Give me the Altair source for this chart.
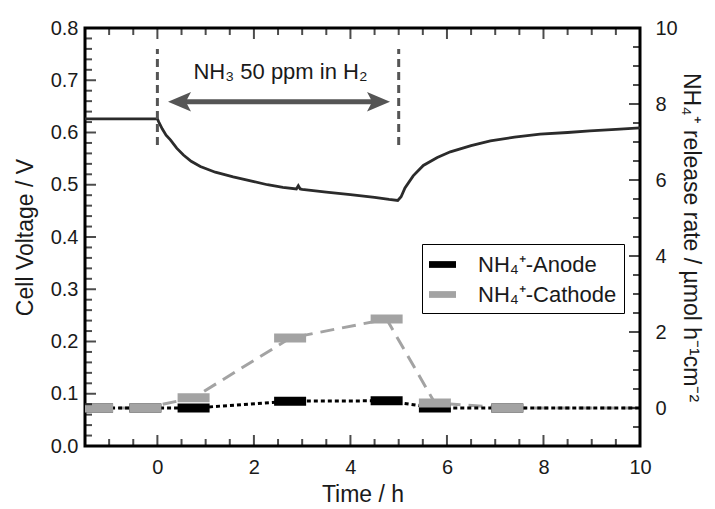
import altair as alt
import pandas as pd
import numpy as np

# ---------------- data ----------------
volt_time = [-1.5, 0.0, 0.03, 0.1, 0.18, 0.27, 0.4, 0.54, 0.7, 0.89, 1.2, 1.57, 2.0, 2.28,
             2.6, 2.88, 2.92, 2.96, 3.0, 3.5, 4.0, 4.5, 4.8, 4.98, 5.05, 5.13, 5.3, 5.51,
             5.8, 6.07, 6.5, 6.9, 7.4, 7.93, 8.5, 8.96, 9.5, 10.0]
volt_value = [0.626, 0.626, 0.62, 0.607, 0.595, 0.586, 0.57, 0.557, 0.545, 0.535, 0.524,
              0.515, 0.506, 0.5, 0.495, 0.492, 0.498, 0.492, 0.491, 0.486, 0.481, 0.476,
              0.472, 0.47, 0.477, 0.494, 0.517, 0.537, 0.552, 0.563, 0.575, 0.584, 0.591,
              0.597, 0.600, 0.603, 0.606, 0.609]

rate_time = [-1.25, -0.25, 0.75, 2.75, 4.75, 5.75, 7.25, 11.25]
anode_rate = [0.0, 0.0, 0.0, 0.18, 0.19, 0.0, 0.0, 0.0]
cathode_rate = [0.0, 0.0, 0.27, 1.84, 2.34, 0.13, 0.0, 0.0]

series_names = ["NH₄⁺-Anode", "NH₄⁺-Cathode"]
series_colors = ["#000000", "#a3a3a3"]

gas_switch_times = [0, 5]
gas_marker_low, gas_marker_high = 0.576, 0.76
arrow_start, arrow_end, arrow_level = 0.22, 4.82, 0.659
annotation_text = "NH₃ 50 ppm in H₂"
annotation_t, annotation_v = 2.55, 0.716

x_labels = [0, 2, 4, 6, 8, 10]
x_minor = [-1.0, -0.5, 0.5, 1.0, 1.5, 2.5, 3.0, 3.5, 4.5, 5.0, 5.5, 6.5, 7.0, 7.5, 8.5, 9.0, 9.5]
yl_labels = [0.0, 0.1, 0.2, 0.3, 0.4, 0.5, 0.6, 0.7, 0.8]
yl_minor = [round(float(v), 2) for v in np.arange(0.02, 0.8, 0.02) if round(v * 10, 4) % 1 != 0]
yr_labels = [0, 2, 4, 6, 8, 10]
yr_minor = [-0.5, 0.5, 1.0, 1.5, 2.5, 3.0, 3.5, 4.5, 5.0, 5.5, 6.5, 7.0, 7.5, 8.5, 9.0, 9.5]

# ---------------- style ----------------
FONT = "Liberation Sans"
TXT = "#1a1a1a"
TICK = "#000000"
W, H = 555, 418
RECT = "M-1,-0.28H1V0.28H-1Z"
LEG_RECT = "M-1,-0.25H1V0.25H-1Z"
LEFT_HEAD = "M0,0L2,-0.85L1.55,0L2,0.85Z"
RIGHT_HEAD = "M0,0L-2,-0.85L-1.55,0L-2,0.85Z"

x_scale = alt.Scale(domain=[-1.5, 10], nice=False, zero=False)
yl_scale = alt.Scale(domain=[0, 0.8], nice=False, zero=False)
yr_scale = alt.Scale(domain=[-1, 10], nice=False, zero=False)

common_axis = dict(ticks=False, domain=False, grid=False, labelFont=FONT, titleFont=FONT,
                   labelFontSize=20, titleFontSize=23, labelColor=TXT, titleColor=TXT,
                   titleFontWeight="normal", labelFlush=False, labelOverlap=False)

x_axis = alt.Axis(title="Time / h", values=x_labels, labelPadding=11, titlePadding=6, **common_axis)
left_axis = alt.Axis(title="Cell Voltage / V", orient="left", values=yl_labels, format=".1f",
                     labelPadding=7, titlePadding=13, **common_axis)
right_axis = alt.Axis(title="NH₄⁺ release rate / µmol h⁻¹cm⁻²", orient="right", values=yr_labels,
                      labelPadding=15, titlePadding=1, **common_axis)


def X(field):
    return alt.X(field, scale=x_scale, axis=x_axis)


# ---------------- ticks (inward) ----------------
def xticks(vals, length):
    df = pd.DataFrame({"tk": vals})
    bottom = alt.Chart(df).mark_tick(color=TICK, size=length, thickness=2).encode(
        x=X("tk:Q"), y=alt.value(H - length / 2))
    top = alt.Chart(df).mark_tick(color=TICK, size=length, thickness=2).encode(
        x=X("tk:Q"), y=alt.value(length / 2))
    return [bottom, top]


def yticks(vals, scale, left, length):
    df = pd.DataFrame({"tv": vals})
    xc = alt.value(length / 2) if left else alt.value(W - length / 2)
    return alt.Chart(df).mark_tick(color=TICK, size=length, thickness=2).encode(
        y=alt.Y("tv:Q", scale=scale, axis=None), x=xc)


tick_layers = (xticks(x_labels, 11) + xticks(x_minor, 7) +
               [yticks(yl_labels, yl_scale, True, 11), yticks(yl_minor, yl_scale, True, 7),
                yticks(yr_labels, yr_scale, False, 11), yticks(yr_minor, yr_scale, False, 7)])

# ---------------- frames ----------------
volt_df = pd.DataFrame({"t": volt_time, "v": volt_value})
anode_df = pd.DataFrame({"t": rate_time, "r": anode_rate, "series": series_names[0]})
cath_df = pd.DataFrame({"t": rate_time, "r": cathode_rate, "series": series_names[1]})
rates_df = pd.concat([anode_df, cath_df], ignore_index=True)

volt = alt.Chart(volt_df).mark_line(color="#2b2b2b", strokeWidth=2.8).encode(
    x=X("t:Q"),
    y=alt.Y("v:Q", scale=yl_scale, axis=left_axis),
)

cath_line = alt.Chart(cath_df).mark_line(color=series_colors[1], strokeWidth=3,
                                         strokeDash=[14, 8], clip=True).encode(
    x=X("t:Q"),
    y=alt.Y("r:Q", scale=yr_scale, axis=right_axis),
)
anode_line = alt.Chart(anode_df).mark_line(color="#000000", strokeWidth=3,
                                           strokeDash=[4, 3], clip=True).encode(
    x=X("t:Q"),
    y=alt.Y("r:Q", scale=yr_scale, axis=None),
)

markers = alt.Chart(rates_df).mark_point(shape=RECT, size=1024, filled=True, opacity=1,
                                         strokeWidth=0, clip=True).encode(
    x=X("t:Q"),
    y=alt.Y("r:Q", scale=yr_scale, axis=None),
    color=alt.Color("series:N", scale=alt.Scale(domain=series_names, range=series_colors),
                    legend=alt.Legend(title=None, orient="none", legendX=337, legendY=216,
                                      symbolType=LEG_RECT, symbolSize=729, symbolStrokeWidth=0,
                                      labelFont=FONT, labelFontSize=22, labelColor=TXT,
                                      padding=7, rowPadding=5, labelOffset=22,
                                      strokeColor="black", fillColor="white")),
)

vlines_df = pd.DataFrame({"t": gas_switch_times, "y0": gas_marker_low, "y1": gas_marker_high})
vlines = alt.Chart(vlines_df).mark_rule(color="#555555", strokeWidth=3, strokeDash=[8, 5]).encode(
    x=X("t:Q"),
    y=alt.Y("y0:Q", scale=yl_scale, axis=None),
    y2="y1:Q",
)

shaft_df = pd.DataFrame({"t0": [arrow_start + 0.2], "t1": [arrow_end - 0.2], "y": [arrow_level]})
shaft = alt.Chart(shaft_df).mark_rule(color="#555555", strokeWidth=5).encode(
    x=X("t0:Q"), x2="t1:Q",
    y=alt.Y("y:Q", scale=yl_scale, axis=None),
)
heads_df = pd.DataFrame({"t": [arrow_start, arrow_end], "y": [arrow_level] * 2, "side": ["left", "right"]})
heads = alt.Chart(heads_df).mark_point(filled=True, opacity=1, size=529, color="#555555",
                                       strokeWidth=0).encode(
    x=X("t:Q"),
    y=alt.Y("y:Q", scale=yl_scale, axis=None),
    shape=alt.Shape("side:N", scale=alt.Scale(domain=["left", "right"], range=[LEFT_HEAD, RIGHT_HEAD]),
                    legend=None),
)

label_df = pd.DataFrame({"t": [annotation_t], "y": [annotation_v], "txt": [annotation_text]})
label = alt.Chart(label_df).mark_text(font=FONT, fontSize=22, color=TXT, baseline="middle").encode(
    x=X("t:Q"),
    y=alt.Y("y:Q", scale=yl_scale, axis=None),
    text="txt:N",
)

chart = alt.layer(
    volt, cath_line, anode_line, markers, vlines, shaft, heads, label, *tick_layers
).resolve_scale(y="independent").properties(
    width=W, height=H,
    padding={"left": 85, "top": 28, "right": 75, "bottom": 63},
    autosize=alt.AutoSizeParams(type="none"),
    background="white",
).configure_view(stroke="black", strokeWidth=3)

chart.save("out.html", embed_options={"renderer": "svg", "actions": False})
